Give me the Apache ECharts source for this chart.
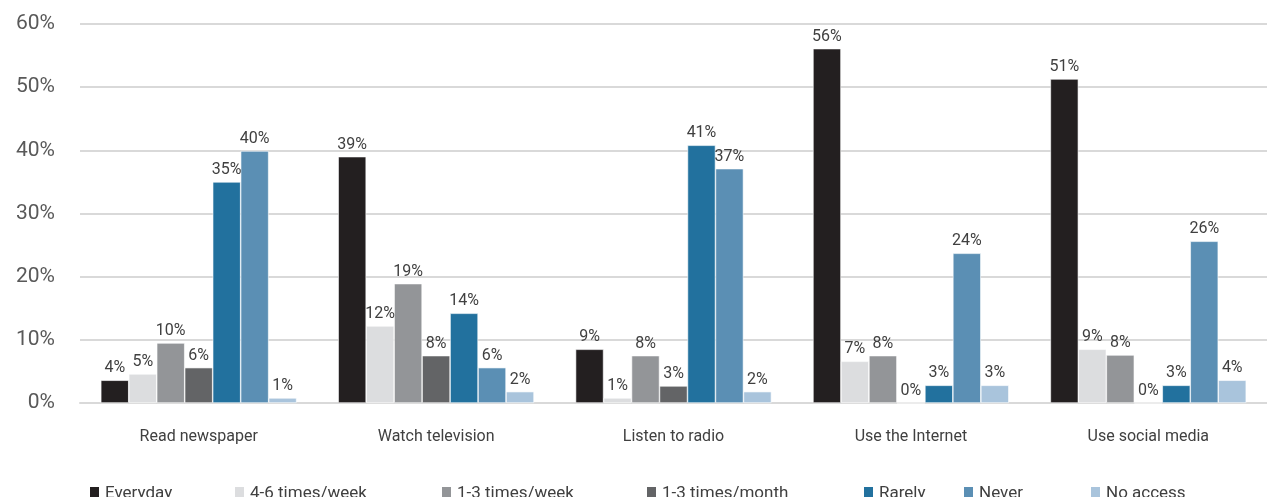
<!DOCTYPE html>
<html>
<head>
<meta charset="utf-8">
<script src="https://cdn.jsdelivr.net/npm/echarts@6/dist/echarts.min.js"></script>
<style>html,body{margin:0;padding:0;background:#fff}#c{width:1267px;height:497px}</style>
</head>
<body>
<div id="c"></div>
<script>
const categories = ['Read newspaper', 'Watch television', 'Listen to radio', 'Use the Internet', 'Use social media'];
const seriesNames = ['Everyday', '4-6 times/week', '1-3 times/week', '1-3 times/month', 'Rarely', 'Never', 'No access'];
const everyday = [3.6, 39.0, 8.5, 56.1, 51.3];
const times46Week = [4.6, 12.2, 0.8, 6.6, 8.5];
const times13Week = [9.5, 18.9, 7.5, 7.5, 7.6];
const times13Month = [5.6, 7.5, 2.7, 0, 0];
const rarely = [35.0, 14.2, 40.8, 2.8, 2.8];
const never = [39.9, 5.6, 37.1, 23.7, 25.6];
const noAccess = [0.8, 1.8, 1.8, 2.8, 3.6];
const yTicks = [0, 10, 20, 30, 40, 50, 60];

const values = [everyday, times46Week, times13Week, times13Month, rarely, never, noAccess];
const colors = ['#231f20', '#dcdddf', '#939598', '#636466', '#22719e', '#5b8fb4', '#a9c4dc'];
const legendLeft = [83, 228, 435, 640, 857, 957, 1084];

const chart = echarts.init(document.getElementById('c'));
chart.setOption({
  animation: false,
  textStyle: { fontFamily: 'Roboto' },
  grid: { left: 80, right: 0, top: 24, bottom: 94 },
  legend: seriesNames.map((n, i) => ({
    data: [n], left: legendLeft[i], top: 480,
    itemWidth: 11, itemHeight: 15, itemGap: 0,
    icon: 'rect',
    textStyle: { fontSize: 17, color: '#404040', fontFamily: 'Roboto' }
  })),
  xAxis: {
    type: 'category', data: categories,
    axisLine: { lineStyle: { color: '#d9d9d9', width: 2 } },
    axisTick: { show: false },
    axisLabel: { fontSize: 16, color: '#404040', margin: 26 }
  },
  yAxis: {
    type: 'value', min: yTicks[0], max: yTicks[yTicks.length - 1], interval: 10,
    axisLine: { show: false }, axisTick: { show: false },
    splitLine: { lineStyle: { color: '#d9d9d9', width: 2 } },
    axisLabel: { fontSize: 21, color: '#595959', margin: 25, formatter: v => v + '%' }
  },
  series: seriesNames.map((n, i) => ({
    name: n, type: 'bar', data: values[i],
    barGap: '0%', barCategoryGap: '17.5%',
    itemStyle: { color: colors[i], borderColor: '#ffffff', borderWidth: 0.6 },
    label: {
      show: true, position: 'top', distance: 4,
      fontSize: 16, color: '#404040',
      formatter: p => Math.round(p.value) + '%'
    }
  }))
});
</script>
</body>
</html>
